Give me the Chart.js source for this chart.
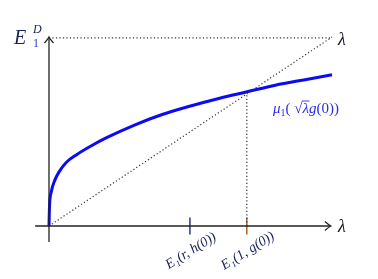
<!DOCTYPE html>
<html>
<head>
<meta charset="utf-8">
<script src="https://cdn.jsdelivr.net/npm/chart.js@4"></script>
<style>
  html, body { margin: 0; padding: 0; background: #fff; }
  #wrap { width: 378px; height: 279px; }
</style>
</head>
<body>
<div id="wrap"><canvas id="plot"></canvas></div>
<script>
// curve (lambda on x, E on y, both scaled 0..1)
const curveX = [0, 0.002, 0.008, 0.02, 0.035, 0.06, 0.1, 0.15, 0.2, 0.3, 0.4, 0.5, 0.6, 0.7, 0.8, 0.9, 1.0];
const curveY = [0, 0.11, 0.18, 0.24, 0.285, 0.335, 0.38, 0.425, 0.465, 0.533, 0.59, 0.635, 0.675, 0.71, 0.745, 0.773, 0.8];

const tickR = 0.498;   // E1(r, h(0))
const tickG = 0.699;   // E1(1, g(0))
const tickLabels = ['E\u2081(r, h(0))', 'E\u2081(1, g(0))'];

const SERIF = "'Liberation Serif', 'DejaVu Serif', serif";

const pts = (xs, ys) => xs.map((x, i) => ({x: x, y: ys[i]}));

const dotted = [1.2, 2.3];

const datasets = [
  { data: pts([-0.049, 0.993], [0, 0]), borderColor: '#222', borderWidth: 1.3 },
  { data: pts([0, 0], [-0.085, 0.995]), borderColor: '#222', borderWidth: 1.3 },
  { data: pts([0.012, 1], [0.995, 0.995]), borderColor: '#333', borderWidth: 1.2, borderDash: dotted },
  { data: pts([0, 1], [0, 1]), borderColor: '#333', borderWidth: 1.2, borderDash: dotted },
  { data: pts([tickG, tickG], [0, 0.71]), borderColor: '#333', borderWidth: 1.2, borderDash: dotted },
  { data: pts([tickR, tickR], [-0.045, 0.045]), borderColor: '#1c2a78', borderWidth: 1.4 },
  { data: pts([tickG, tickG], [-0.045, 0.045]), borderColor: '#a8561e', borderWidth: 1.4 },
  { data: pts(curveX, curveY), borderColor: '#0a0af5', borderWidth: 3, cubicInterpolationMode: 'monotone' }
];

function setFont(c, style, size) {
  c.font = style + ' ' + size + 'px ' + SERIF;
}

const decor = {
  id: 'decor',
  afterDatasetsDraw(chart) {
    const c = chart.ctx, sx = chart.scales.x, sy = chart.scales.y;
    const px = v => sx.getPixelForValue(v), py = v => sy.getPixelForValue(v);
    c.save();
    // arrow heads
    c.strokeStyle = '#222';
    c.lineWidth = 1.3;
    let ax = px(0), ay = py(1);
    c.beginPath();
    c.moveTo(ax - 4.5, ay + 6); c.quadraticCurveTo(ax - 1, ay + 2, ax, ay);
    c.quadraticCurveTo(ax + 1, ay + 2, ax + 4.5, ay + 6);
    c.stroke();
    ax = px(0.996); ay = py(0);
    c.beginPath();
    c.moveTo(ax - 6, ay - 4.5); c.quadraticCurveTo(ax - 2, ay - 1, ax, ay);
    c.quadraticCurveTo(ax - 2, ay + 1, ax - 6, ay + 4.5);
    c.stroke();

    // E_1^D
    c.textBaseline = 'alphabetic';
    c.fillStyle = '#1b2460';
    setFont(c, 'italic', 20);
    c.fillText('E', 14, 44);
    setFont(c, 'italic', 12);
    c.fillText('D', 33, 33);
    c.fillStyle = '#2b3ad0';
    setFont(c, 'normal', 12);
    c.fillText('1', 33, 47);

    // lambda labels
    c.fillStyle = '#1a1a2a';
    setFont(c, 'italic', 18);
    c.fillText('λ', 338, 45);
    c.fillText('λ', 338, 232);

    // mu_1( sqrt(lambda) g(0) )
    c.fillStyle = '#2a2af0';
    c.strokeStyle = '#2a2af0';
    let x = 273, base = 113;
    setFont(c, 'italic', 15);
    c.fillText('μ', x, base); x += c.measureText('μ').width;
    setFont(c, 'normal', 10);
    c.fillText('1', x, base + 3); x += c.measureText('1').width;
    setFont(c, 'normal', 15);
    c.fillText('( ', x, base); x += c.measureText('( ').width;
    c.fillText('√', x, base); x += c.measureText('√').width;
    setFont(c, 'italic', 15);
    const lw = c.measureText('λ').width;
    c.lineWidth = 0.9;
    c.beginPath(); c.moveTo(x - 0.5, base - 12); c.lineTo(x + lw + 0.5, base - 12); c.stroke();
    c.fillText('λ', x, base); x += lw;
    c.fillText('g', x, base); x += c.measureText('g').width;
    setFont(c, 'normal', 15);
    c.fillText('(0))', x, base);

    // rotated tick labels
    c.fillStyle = '#1b2460';
    setFont(c, 'italic', 14);
    c.textAlign = 'center';
    c.textBaseline = 'middle';
    [tickR, tickG].forEach((t, i) => {
      c.save();
      c.translate(px(t) + 1, 251);
      c.rotate(-32 * Math.PI / 180);
      c.fillText(tickLabels[i], 0, 0);
      c.restore();
    });
    c.restore();
  }
};

new Chart(document.getElementById('plot'), {
  type: 'scatter',
  data: { datasets: datasets.map(d => Object.assign({ showLine: true, pointRadius: 0, fill: false }, d)) },
  options: {
    responsive: true,
    maintainAspectRatio: false,
    animation: false,
    layout: { padding: 0 },
    plugins: { legend: { display: false }, tooltip: { enabled: false } },
    scales: {
      x: { type: 'linear', display: false, min: -0.1731, max: 1.1625 },
      y: { type: 'linear', display: false, min: -0.2804, max: 1.1958 }
    }
  },
  plugins: [decor]
});
</script>
</body>
</html>
